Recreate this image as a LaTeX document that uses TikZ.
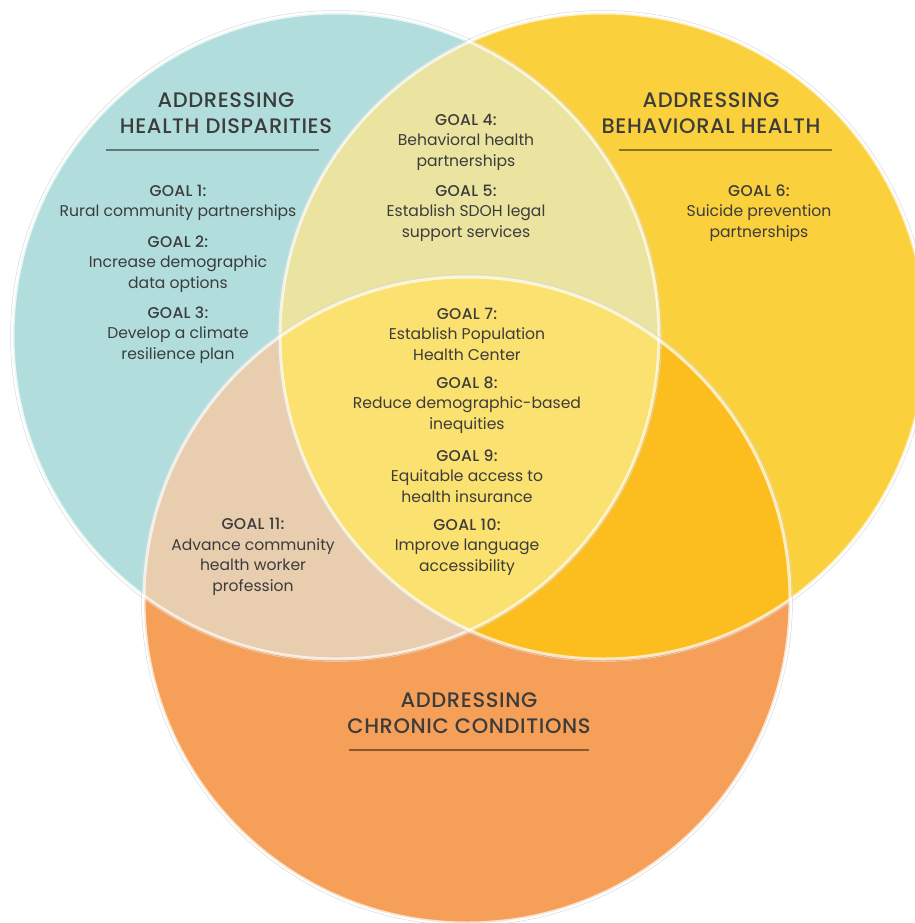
\documentclass[tikz,border=0pt]{standalone}
\usepackage{fontspec}
\setmainfont{Poppins}
\newfontfamily\goalfont[LetterSpace=2]{Poppins Medium}
\newfontfamily\headfont[LetterSpace=3]{Poppins Medium}
\definecolor{tealc}{HTML}{B1DEDC}
\definecolor{sunc}{HTML}{FAD03C}
\definecolor{orangec}{HTML}{F59F58}
\definecolor{khakic}{HTML}{EBE3A0}
\definecolor{tanc}{HTML}{E8CDAE}
\definecolor{amberc}{HTML}{FBBE1E}
\definecolor{corec}{HTML}{FBE16F}
\definecolor{txt}{HTML}{3C3C3C}
\begin{document}
\begin{tikzpicture}[x=1pt,y=-1pt,
        goal/.style={align=center,text=txt,font=\fontsize{15.6}{20.5}\selectfont},
        head/.style={align=center,text=txt,font=\headfont\fontsize{21}{26}\selectfont},
        rule/.style={line width=1.4pt,black,opacity=0.45},
        rim/.style={white,line width=3pt,opacity=0.7},
        halo/.style={gray!30,line width=0.5pt}]
    \useasboundingbox (0,0) rectangle (914,923);
    \newcommand{\gl}[1]{{\goalfont #1}}

    % the three circles
    \coordinate (L) at (336,336);
    \coordinate (R) at (603,336);
    \coordinate (B) at (467,600);
    \fill[tealc] (L) circle (323);
    \fill[sunc] (R) circle (323);
    \fill[orangec] (B) circle (323);

    % overlaps
    \begin{scope}
        \clip (L) circle (323);
        \fill[khakic] (R) circle (323);
        \fill[tanc] (B) circle (323);
    \end{scope}
    \begin{scope}
        \clip (R) circle (323);
        \fill[amberc] (B) circle (323);
        \clip (L) circle (323);
        \fill[corec] (B) circle (323);
    \end{scope}

    % outlines
    \foreach \c in {L,R,B} {
        \draw[halo] (\c) circle (325.5);
        \draw[rim] (\c) circle (323);
    }

    % headings
    \node[head] (hd) at (226,113) {ADDRESSING\\HEALTH DISPARITIES};
    \node[head] (bh) at (711,113) {ADDRESSING\\BEHAVIORAL HEALTH};
    \node[head] (cc) at (469,713) {ADDRESSING\\CHRONIC CONDITIONS};
    \draw[rule] (106,150) -- (319,150);
    \draw[rule] (619,150) -- (832,150);
    \draw[rule] (349,750) -- (589,750);

    % goals
    \node[goal] (g1) at (178,203) {\gl{GOAL 1:}\\Rural community partnerships};
    \node[goal] (g2) at (178,264) {\gl{GOAL 2:}\\Increase demographic\\data options};
    \node[goal] (g3) at (178,335) {\gl{GOAL 3:}\\Develop a climate\\resilience plan};
    \node[goal] (g4) at (466,142) {\gl{GOAL 4:}\\Behavioral health\\partnerships};
    \node[goal] (g5) at (466,213) {\gl{GOAL 5:}\\Establish SDOH legal\\support services};
    \node[goal] (g6) at (759,213) {\gl{GOAL 6:}\\Suicide prevention\\partnerships};
    \node[goal] (g7) at (467,334) {\gl{GOAL 7:}\\Establish Population\\Health Center};
    \node[goal] (g8) at (467,405) {\gl{GOAL 8:}\\Reduce demographic-based\\inequities};
    \node[goal] (g9) at (467,476) {\gl{GOAL 9:}\\Equitable access to\\health insurance};
    \node[goal] (g10) at (467,547) {\gl{GOAL 10:}\\Improve language\\accessibility};
    \node[goal] (g11) at (253,557) {\gl{GOAL 11:}\\Advance community\\health worker\\profession};
\end{tikzpicture}
\end{document}
